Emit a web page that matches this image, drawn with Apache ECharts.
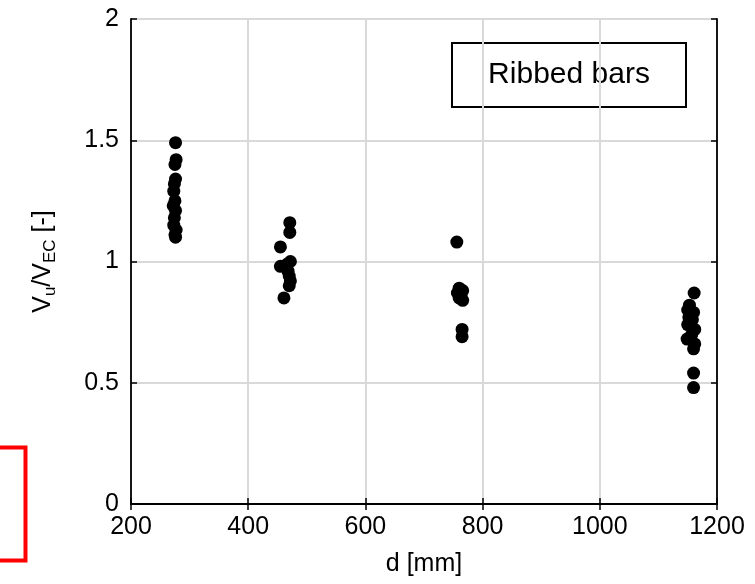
<!DOCTYPE html>
<html>
<head>
<meta charset="utf-8">
<script src="https://cdn.jsdelivr.net/npm/echarts@6/dist/echarts.min.js"></script>
<style>
  html, body { margin: 0; padding: 0; background: #fff; }
  #main { width: 755px; height: 584px; }
</style>
</head>
<body>
<div id="main"></div>
<script>
// d [mm] and Vu/VEC, one pair of arrays per test group
var d1 = [276, 277, 275, 276, 274, 273, 275, 272, 276, 274, 273, 277, 275, 276];
var v1 = [1.49, 1.42, 1.40, 1.34, 1.32, 1.29, 1.25, 1.23, 1.21, 1.18, 1.15, 1.13, 1.11, 1.10];
var d2 = [471, 471, 455, 455, 467, 472, 468, 470, 472, 470, 461];
var v2 = [1.16, 1.12, 1.06, 0.98, 0.99, 1.00, 0.96, 0.94, 0.92, 0.90, 0.85];
var d3 = [756, 760, 766, 757, 763, 760, 766, 765, 765];
var v3 = [1.08, 0.89, 0.88, 0.87, 0.86, 0.85, 0.84, 0.72, 0.69];
var d4 = [1161, 1153, 1150, 1160, 1152, 1158, 1150, 1162, 1157, 1149, 1162, 1160, 1160, 1160];
var v4 = [0.87, 0.82, 0.80, 0.79, 0.77, 0.76, 0.74, 0.72, 0.70, 0.68, 0.66, 0.64, 0.54, 0.48];
var legendText = 'Ribbed bars';

function pairs(xs, ys) {
    var out = [];
    for (var i = 0; i < xs.length; i++) {
        out.push([xs[i], ys[i]]);
    }
    return out;
}

var points = [].concat(pairs(d1, v1), pairs(d2, v2), pairs(d3, v3), pairs(d4, v4));

var font = 'Liberation Sans, Arial, Helvetica, sans-serif';
var txt = '#000';

// top/right axes only carry the inward ticks of the frame
var frameAxis = {
    axisLine: { show: true, lineStyle: { color: '#000', width: 1.8 } },
    axisTick: { show: true, inside: true, length: 6, lineStyle: { color: '#000', width: 1.5 } },
    axisLabel: { show: false },
    splitLine: { show: false }
};

var option = {
    animation: false,
    backgroundColor: '#fff',
    grid: { left: 131, right: 38, top: 19, bottom: 80 },
    xAxis: [
        {
            type: 'value', min: 200, max: 1200, interval: 200,
            name: 'd [mm]', nameLocation: 'middle', nameGap: 48,
            nameTextStyle: { fontFamily: font, fontSize: 25, color: txt },
            axisLine: { show: true, onZero: false, lineStyle: { color: '#000', width: 1.8 } },
            axisTick: { show: true, inside: true, length: 6, lineStyle: { color: '#000', width: 1.5 } },
            axisLabel: { fontFamily: font, fontSize: 25, color: txt, margin: 11,
                         formatter: function (v) { return String(v); } },
            splitLine: { show: true, lineStyle: { color: '#d9d9d9', width: 2 } }
        },
        Object.assign({ type: 'value', min: 200, max: 1200, interval: 200, position: 'top' }, frameAxis)
    ],
    yAxis: [
        {
            type: 'value', min: 0, max: 2, interval: 0.5,
            name: '{a|V}{s|u}{a|/V}{s|EC}{a| [-]}', nameLocation: 'middle', nameGap: 72,
            nameTextStyle: {
                fontFamily: font, color: txt,
                rich: {
                    a: { fontFamily: font, fontSize: 25, color: txt },
                    s: { fontFamily: font, fontSize: 17, color: txt, verticalAlign: 'bottom', padding: [14, 0, 0, 0] }
                }
            },
            axisLine: { show: true, onZero: false, lineStyle: { color: '#000', width: 1.8 } },
            axisTick: { show: true, inside: true, length: 6, lineStyle: { color: '#000', width: 1.5 } },
            axisLabel: { fontFamily: font, fontSize: 25, color: txt, margin: 12 },
            splitLine: { show: true, lineStyle: { color: '#d9d9d9', width: 2 } }
        },
        Object.assign({ type: 'value', min: 0, max: 2, interval: 0.5, position: 'right' }, frameAxis)
    ],
    series: [
        {
            name: legendText,
            type: 'scatter',
            symbol: 'circle',
            symbolSize: 13,
            itemStyle: { color: '#000', opacity: 1 },
            data: points
        }
    ],
    graphic: [
        {
            type: 'group', left: 451, top: 42,
            children: [
                { type: 'rect', shape: { x: 0, y: 0, width: 234, height: 64 },
                  style: { fill: '#fff', stroke: '#000', lineWidth: 2 } },
                { type: 'text', x: 117, y: 32,
                  style: { text: legendText, fontFamily: font, fontSize: 30, fill: txt,
                           align: 'center', verticalAlign: 'middle' } }
            ]
        },
        {
            type: 'rect', left: -12, top: 445,
            shape: { x: 0, y: 0, width: 35, height: 113 },
            style: { fill: 'none', stroke: '#ff0000', lineWidth: 4 }
        }
    ]
};

var myChart = echarts.init(document.getElementById('main'));
myChart.setOption(option);
</script>
</body>
</html>
